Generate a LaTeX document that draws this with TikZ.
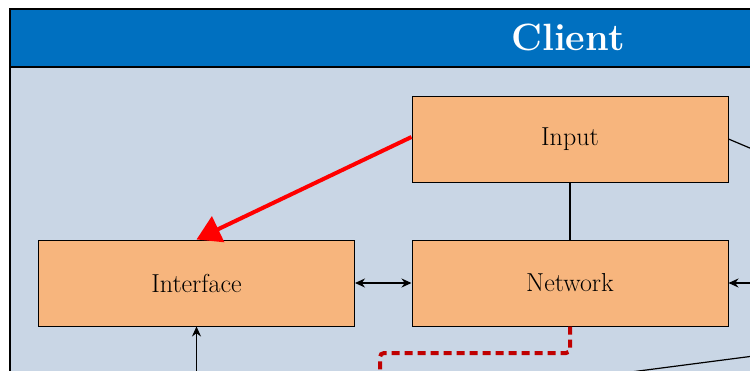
\documentclass[tikz,border=0pt]{standalone}
\usetikzlibrary{arrows.meta}
\definecolor{headblue}{HTML}{0070C0}
\definecolor{panel}{HTML}{C9D6E5}
\definecolor{boxfill}{HTML}{F7B57D}
\definecolor{darkred}{HTML}{C00000}
\tikzset{
  module/.style={draw=black, line width=1pt, fill=boxfill, minimum width=316pt, minimum height=86pt,
    inner sep=0pt, text=black, font=\fontsize{26}{30}\selectfont},
  link/.style={draw=black, line width=1.2pt},
  biarrow/.style={link, {Stealth[length=10pt,width=9pt]}-{Stealth[length=10pt,width=9pt]}},
  onearrow/.style={link, -{Stealth[length=10pt,width=9pt]}},
  redflow/.style={draw=red, line width=4pt, -{Triangle[length=24pt,width=28pt]}},
  syncpath/.style={draw=darkred, line width=4pt, dash pattern=on 8pt off 5pt, rounded corners=4pt},
}
\begin{document}
\begin{tikzpicture}[x=1pt, y=-1pt]
  \useasboundingbox (0,0) rectangle (750,370);
  \begin{scope}
    \clip (0,0) rectangle (750,370);
    % client panel with its title band
    \fill[panel] (10,9) rectangle (800,420);
    \fill[headblue] (10,9) rectangle (800,67);
    \draw[line width=1.2pt] (10,420) -- (10,9) -- (800,9);
    \draw[line width=1.2pt] (10,67) -- (800,67);
    \node[text=white, font=\fontsize{38}{44}\selectfont\bfseries] (title) at (568,37) {Client};

    % modules
    \node[module] (input) at (570,139) {Input};
    \node[module] (interface) at (196.5,283) {Interface};
    \node[module] (network) at (570,283) {Network};

    % free ends of connectors leaving the panel
    \coordinate (inRight) at (790,165);
    \coordinate (netRight) at (760,283);
    \coordinate (ifBelow) at (196.5,380);
    \coordinate (lowA) at (790,351.3);
    \coordinate (lowB) at (600,376);
    \coordinate (syncEnd) at (380,380);

    % connectors
    \draw[link] (input.south) -- (network.north);
    \draw[biarrow] (interface.east) -- (network.west);
    \draw[onearrow] (netRight) -- (network.east);
    \draw[link] (input.east) -- (inRight);
    \draw[onearrow] (ifBelow) -- (interface.south);
    \draw[link] (lowA) -- (lowB);
    \draw[syncpath] (network.south) -- (570,353) -- (380,353) -- (syncEnd);
    \draw[redflow] ([yshift=2pt]input.west) -- (interface.north);
  \end{scope}
\end{tikzpicture}
\end{document}
